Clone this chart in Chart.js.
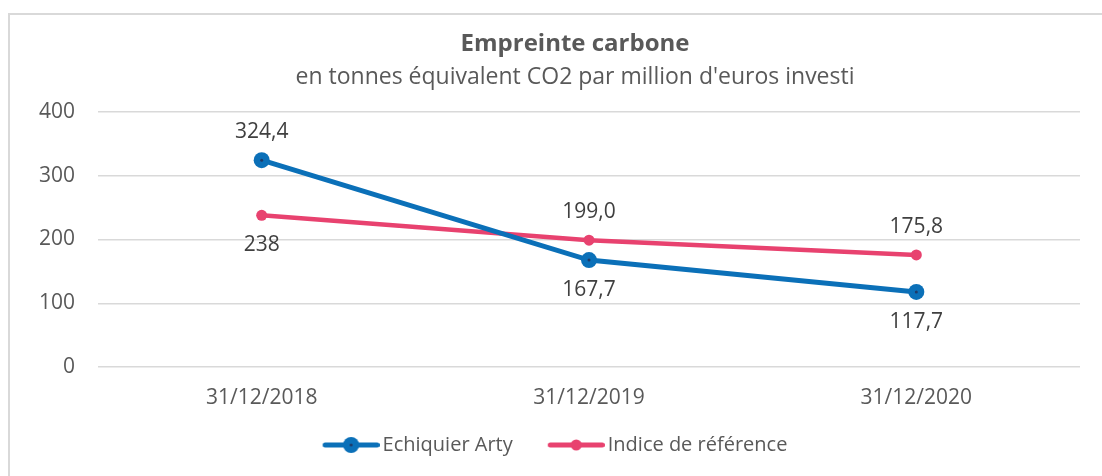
<!DOCTYPE html>
<html>
<head>
<meta charset="utf-8">
<script src="https://cdn.jsdelivr.net/npm/chart.js@4"></script>
<style>
  body { margin: 0; background: #fff; overflow: hidden; }
  #frame { position: absolute; left: 8px; top: 13px; width: 1200px; height: 600px; border: 2px solid #d9d9d9; }
  canvas { position: absolute; left: 0; top: 0; }
</style>
</head>
<body>
<div id="frame"></div>
<canvas id="graphic" width="1102" height="476"></canvas>
<script>
const dates = ["31/12/2018", "31/12/2019", "31/12/2020"];
const arty = [324.4, 167.7, 117.7];
const indice = [238, 199.0, 175.8];
const artyLabels = ["324,4", "167,7", "117,7"];
const indiceLabels = ["238", "199,0", "175,8"];
// label above (-1) or below (+1) the point
const artyPos = [-1, 1, 1];
const indicePos = [1, -1, -1];

const chartTitle = "Empreinte carbone";
const chartSubtitle = "en tonnes équivalent CO2 par million d'euros investi";

const BLUE = "#0b70b8";
const PINK = "#e8426f";
const FONT = "'Open Sans', sans-serif";
const TEXT = "#595959";

// legend icon: line with marker, shifted so that it sits right before the text
function legendIcon(color, r, dot) {
  const c = document.createElement("canvas");
  c.width = 78; c.height = 20;
  const g = c.getContext("2d");
  g.strokeStyle = color; g.lineWidth = 5; g.lineCap = "round";
  g.beginPath(); g.moveTo(23.5, 10); g.lineTo(75.5, 10); g.stroke();
  g.fillStyle = color;
  g.beginPath(); g.arc(49.5, 10, r, 0, Math.PI * 2); g.fill();
  if (dot) { g.fillStyle = "#1f3a68"; g.beginPath(); g.arc(49.5, 10, 1.5, 0, Math.PI * 2); g.fill(); }
  return c;
}

const titles = {
  id: "titles",
  afterDraw(chart) {
    const ctx = chart.ctx;
    const cx = chart.width / 2 + 24;
    ctx.save();
    ctx.fillStyle = TEXT;
    ctx.textAlign = "center";
    ctx.textBaseline = "middle";
    ctx.font = "bold 24px " + FONT;
    ctx.fillText(chartTitle, cx, 44);
    ctx.font = "23px " + FONT;
    ctx.fillText(chartSubtitle, cx, 77);
    ctx.restore();
  }
};

const valueLabels = {
  id: "valueLabels",
  afterDatasetsDraw(chart) {
    const ctx = chart.ctx;
    ctx.save();
    ctx.font = "21px " + FONT;
    ctx.fillStyle = "#404040";
    ctx.textAlign = "center";
    ctx.textBaseline = "middle";
    const sets = [[artyLabels, artyPos], [indiceLabels, indicePos]];
    chart.data.datasets.forEach((ds, i) => {
      chart.getDatasetMeta(i).data.forEach((pt, j) => {
        const pos = sets[i][1][j];
        ctx.fillText(sets[i][0][j], pt.x, pt.y + pos * (pos > 0 ? 30 : 28));
      });
    });
    ctx.restore();
  }
};

const dotCenter = {
  id: "dotCenter",
  afterDatasetsDraw(chart) {
    const ctx = chart.ctx;
    ctx.save();
    ctx.fillStyle = "#1f3a68";
    chart.getDatasetMeta(0).data.forEach((pt) => {
      ctx.beginPath(); ctx.arc(pt.x, pt.y, 1.5, 0, Math.PI * 2); ctx.fill();
    });
    ctx.restore();
  }
};

const icons = [legendIcon(BLUE, 8, true), legendIcon(PINK, 5.5, false)];

new Chart(document.getElementById("graphic"), {
  type: "line",
  data: {
    labels: dates,
    datasets: [
      {
        label: "Echiquier Arty",
        data: arty,
        borderColor: BLUE,
        backgroundColor: BLUE,
        borderWidth: 5,
        pointRadius: 8,
        pointHoverRadius: 8,
        pointBackgroundColor: BLUE,
        pointBorderWidth: 0,
      },
      {
        label: "Indice de référence",
        data: indice,
        borderColor: PINK,
        backgroundColor: PINK,
        borderWidth: 4.5,
        pointRadius: 5.5,
        pointHoverRadius: 5.5,
        pointBackgroundColor: PINK,
        pointBorderWidth: 0,
      },
    ],
  },
  options: {
    responsive: false,
    animation: false,
    layout: { padding: { left: 16, right: 22, top: 112, bottom: 11 } },
    plugins: {
      title: { display: false },
      legend: {
        position: "bottom",
        labels: {
          usePointStyle: true,
          pointStyleWidth: 64,
          color: TEXT,
          font: { family: FONT, size: 20 },
          padding: 21,
          generateLabels(chart) {
            return chart.data.datasets.map((ds, i) => ({
              text: ds.label,
              fontColor: TEXT,
              pointStyle: icons[i],
              datasetIndex: i,
              hidden: false,
              lineWidth: 0,
            }));
          },
        },
      },
      tooltip: { enabled: false },
    },
    scales: {
      x: {
        offset: true,
        grid: { display: false },
        border: { display: false },
        ticks: { color: TEXT, font: { family: FONT, size: 21 }, padding: 10 },
        afterFit(scale) { scale.height = 47; },
      },
      y: {
        min: 0,
        max: 400,
        ticks: { stepSize: 100, color: TEXT, font: { family: FONT, size: 21 }, padding: 23 },
        grid: { color: "#d9d9d9", lineWidth: 1.5, drawTicks: false },
        border: { display: false },
      },
    },
  },
  plugins: [valueLabels, dotCenter, titles],
});
</script>
</body>
</html>
